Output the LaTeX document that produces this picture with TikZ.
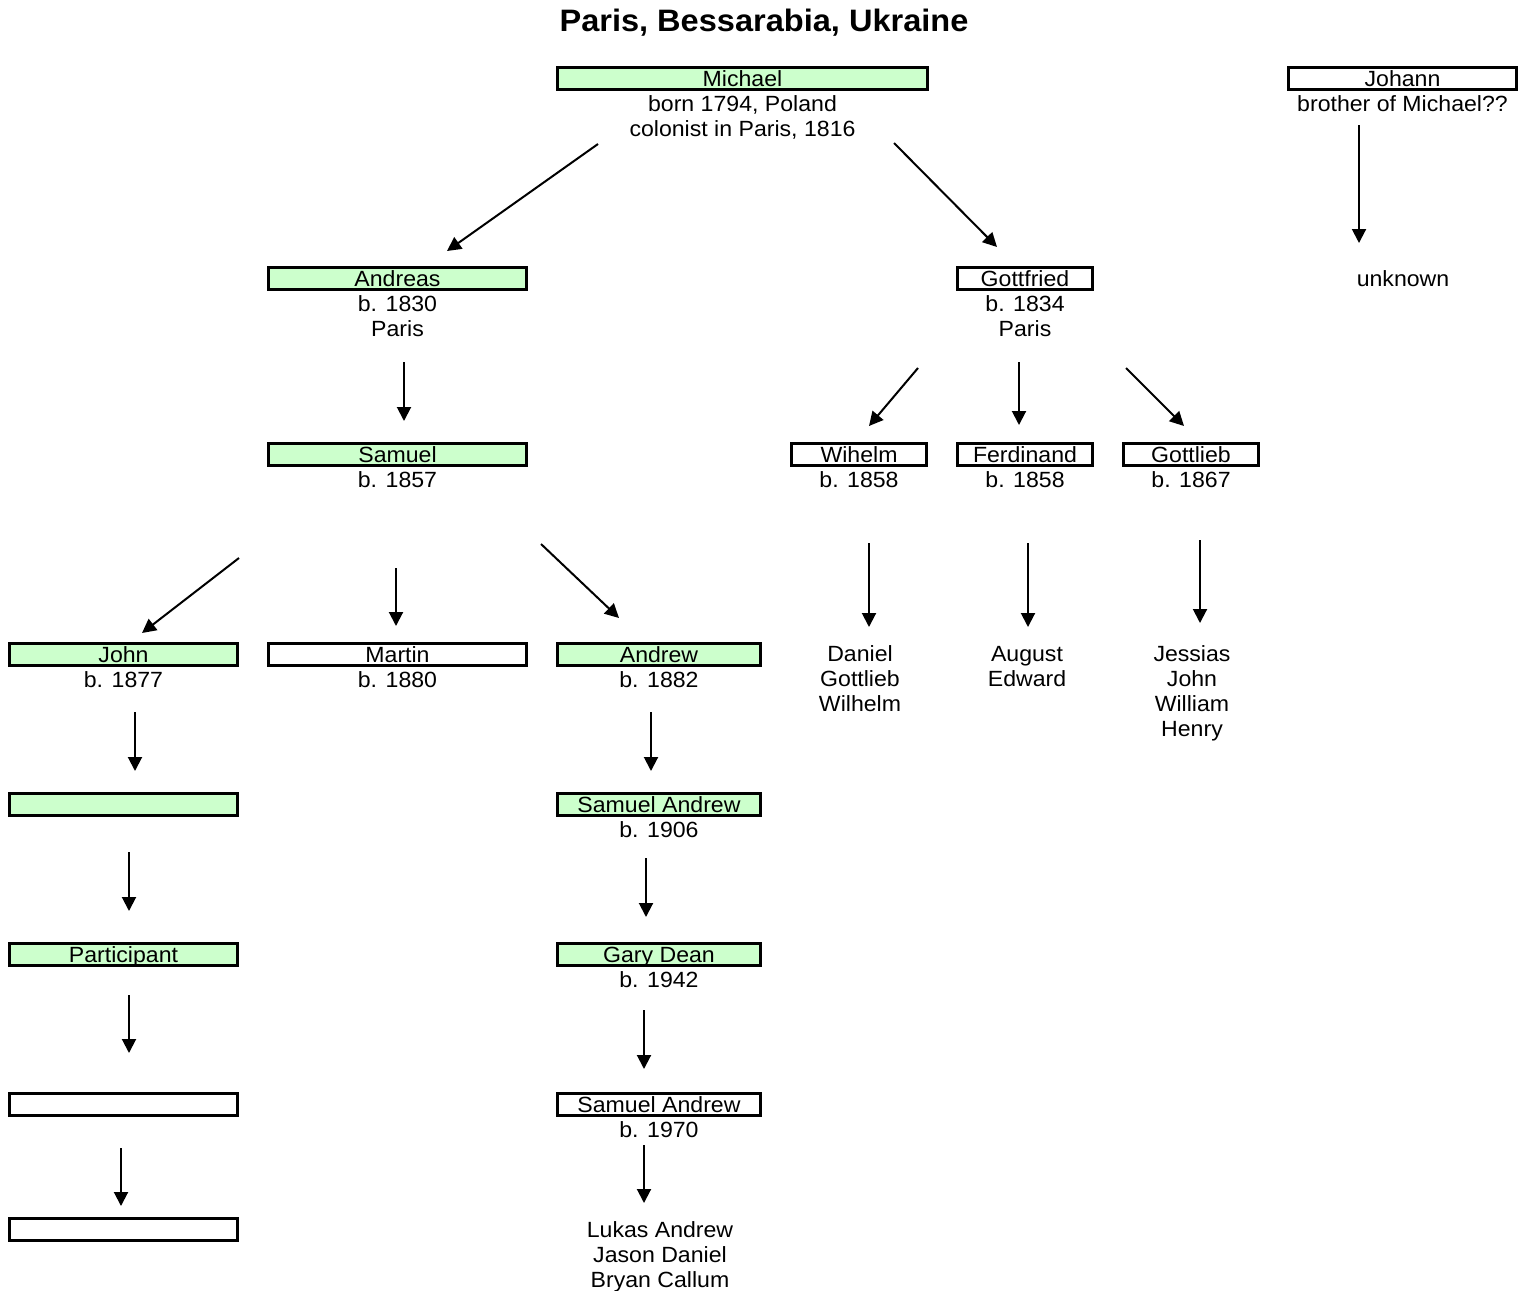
\documentclass[tikz,border=0pt]{standalone}
\usepackage{fontspec}
\setmainfont{Liberation Sans}[FakeStretch=1.05]
\usetikzlibrary{arrows.meta}
\definecolor{lgreen}{RGB}{204,255,204}
\newcommand{\fst}{\rule{0pt}{17pt}}
\begin{document}
\begin{tikzpicture}[x=1pt,y=-1pt,
 pbox/.style={draw, line width=3pt, minimum height=22pt, inner sep=0pt, text height=18pt, text depth=3pt, font=\fontsize{22}{25}\selectfont},
 gbox/.style={pbox, fill=lgreen},
 wbox/.style={pbox, fill=white},
 info/.style={align=center, inner sep=0pt, anchor=north, font=\fontsize{22}{25}\selectfont},
 arr/.style={line width=2pt, -{Triangle[length=14pt,width=14pt]}}]
\useasboundingbox (0,0) rectangle (1525,1290);

\node[font=\bfseries\fontsize{31}{34}\selectfont] (title) at (764,23) {Paris, Bessarabia, Ukraine};

% boxes
\node[gbox, minimum width=370pt] (mi) at (742.5,78.5) {Michael};
\node[wbox, minimum width=228pt] (jo) at (1402.5,78.5) {Johann};
\node[gbox, minimum width=258pt] (an) at (397.5,278.5) {Andreas};
\node[wbox, minimum width=135pt] (go) at (1025,278.5) {Gottfried};
\node[gbox, minimum width=258pt] (sa) at (397.5,454.5) {Samuel};
\node[wbox, minimum width=135pt] (wi) at (859,454.5) {Wihelm};
\node[wbox, minimum width=135pt] (fe) at (1025,454.5) {Ferdinand};
\node[wbox, minimum width=135pt] (gl) at (1191,454.5) {Gottlieb};
\node[gbox, minimum width=228pt] (jn) at (123.5,654.5) {John};
\node[wbox, minimum width=258pt] (ma) at (397.5,654.5) {Martin};
\node[gbox, minimum width=203pt] (aw) at (659,654.5) {Andrew};
\node[gbox, minimum width=228pt] (e1) at (123.5,804.5) {};
\node[gbox, minimum width=203pt] (sa1) at (659,804.5) {Samuel Andrew};
\node[gbox, minimum width=228pt] (pa) at (123.5,954.5) {Participant};
\node[gbox, minimum width=203pt] (gd) at (659,954.5) {Gary Dean};
\node[wbox, minimum width=228pt] (e2) at (123.5,1104.5) {};
\node[wbox, minimum width=203pt] (sa2) at (659,1104.5) {Samuel Andrew};
\node[wbox, minimum width=228pt] (e3) at (123.5,1229.5) {};

% info texts
\node[info] (mi-i) at ([yshift=-3pt]mi.south) {\fst born 1794, Poland\\colonist in Paris, 1816};
\node[info] (jo-i) at ([yshift=-3pt]jo.south) {\fst brother of Michael??};
\node[info] (an-i) at ([yshift=-3pt]an.south) {\fst b. 1830\\Paris};
\node[info] (go-i) at ([yshift=-3pt]go.south) {\fst b. 1834\\Paris};
\node[info] (sa-i) at ([yshift=-3pt]sa.south) {\fst b. 1857};
\node[info] (wi-i) at ([yshift=-3pt]wi.south) {\fst b. 1858};
\node[info] (fe-i) at ([yshift=-3pt]fe.south) {\fst b. 1858};
\node[info] (gl-i) at ([yshift=-3pt]gl.south) {\fst b. 1867};
\node[info] (jn-i) at ([yshift=-3pt]jn.south) {\fst b. 1877};
\node[info] (ma-i) at ([yshift=-3pt]ma.south) {\fst b. 1880};
\node[info] (aw-i) at ([yshift=-3pt]aw.south) {\fst b. 1882};
\node[info] (sa1-i) at ([yshift=-3pt]sa1.south) {\fst b. 1906};
\node[info] (gd-i) at ([yshift=-3pt]gd.south) {\fst b. 1942};
\node[info] (sa2-i) at ([yshift=-3pt]sa2.south) {\fst b. 1970};

\node[info] (unk) at (1403,269.5) {\fst unknown};
\node[info] (wi-c) at (860,644.5) {\fst Daniel\\Gottlieb\\Wilhelm};
\node[info] (fe-c) at (1027,644.5) {\fst August\\Edward};
\node[info] (gl-c) at (1192,644.5) {\fst Jessias\\John\\William\\Henry};
\node[info] (sa2-c) at (660,1220.5) {\fst Lukas Andrew\\Jason Daniel\\Bryan Callum};

% arrow end points
\coordinate (a1s) at (598,144);   \coordinate (a1e) at (447,251);
\coordinate (a2s) at (894,143);   \coordinate (a2e) at (997,247);
\coordinate (a3s) at (1359,125);  \coordinate (a3e) at (1359,243);
\coordinate (a4s) at (404,362);   \coordinate (a4e) at (404,421);
\coordinate (a5s) at (918,368);   \coordinate (a5e) at (869,426);
\coordinate (a6s) at (1019,362);  \coordinate (a6e) at (1019,425);
\coordinate (a7s) at (1126,368);  \coordinate (a7e) at (1184,426);
\coordinate (a8s) at (239,558);   \coordinate (a8e) at (142,633);
\coordinate (a9s) at (396,568);   \coordinate (a9e) at (396,626);
\coordinate (a10s) at (541,544);  \coordinate (a10e) at (619,618);
\coordinate (a11s) at (869,543);  \coordinate (a11e) at (869,627);
\coordinate (a12s) at (1028,543); \coordinate (a12e) at (1028,627);
\coordinate (a13s) at (1200,540); \coordinate (a13e) at (1200,623);
\coordinate (a14s) at (135,712);  \coordinate (a14e) at (135,771);
\coordinate (a15s) at (651,712);  \coordinate (a15e) at (651,771);
\coordinate (a16s) at (129,852);  \coordinate (a16e) at (129,911);
\coordinate (a17s) at (646,858);  \coordinate (a17e) at (646,917);
\coordinate (a18s) at (129,995);  \coordinate (a18e) at (129,1053);
\coordinate (a19s) at (644,1010); \coordinate (a19e) at (644,1069);
\coordinate (a20s) at (121,1148); \coordinate (a20e) at (121,1206);
\coordinate (a21s) at (644,1145); \coordinate (a21e) at (644,1203);

\foreach \i in {1,...,21} {\draw[arr] (a\i s) -- (a\i e);}
\end{tikzpicture}
\end{document}
